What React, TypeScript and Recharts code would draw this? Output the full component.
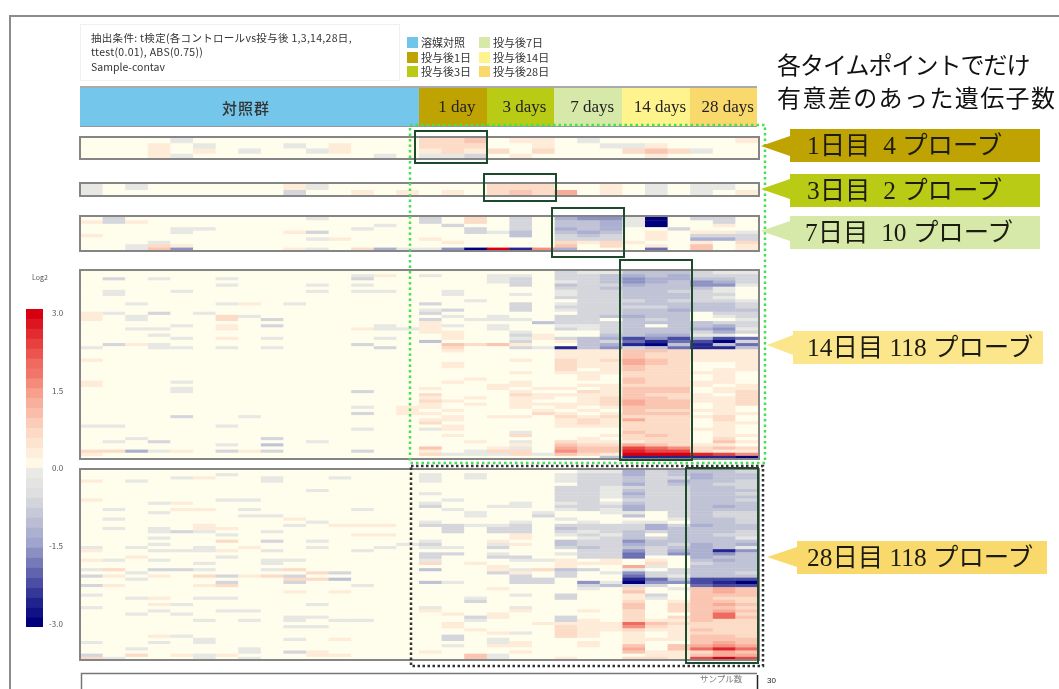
import { ScatterChart, Scatter, XAxis, YAxis } from 'recharts'

// ─── Data ─────────────────────────────────────────────────────────────────────
// One string per probe, 30 samples (15 control + 5 x 3 treated).
// '.' = 0, '1'..'9' = +1/3 .. +3 log2, 'a'..'i' = -1/3 .. -3 log2

const PROBES_DAY1 = [
  '... .a. ... ... ... 223 .11 .a. ... ..1',
  '... 1.a ... a.1 ... 222 ..1 ..a a1. ...',
  '... 1.1 .a. .a1 ... 121 2.2 ... 232 a..',
  '... 1a. ... ... .a. aab .1. ... .1. ...',
]
const PROBES_DAY3 = [
  'a.a ... ... 1a. ... ... 222 ..1 .a. aa.',
  'a.. ... ... b.. 1.1 .1. 232 4.1 .a. a.1',
]
const PROBES_DAY7 = [
  '.b. ... ... .a. ... b.2 .b. dee ai. bb.',
  '1b1 ... ... ... ... b.2 .b. ccd ai. .b.',
  '... ... ... ... .a. .b. .b. ccd ai. .1.',
  '... .aa ... ... a.. ..b .b. dcd ..b ...',
  '... .a. ... 1b. ... ..b ac. cdc .1. 11a',
  '1.. ... ... ... ... ... .c. bcb .1. bbb',
  '... ... ... .a1 ... 1.. ... bbb .1. ddb',
  '... a.. ... ... ... .1. ... 212 1.. 1.2',
  '..a 21. ... ... ... ... ... 3.2 .1. 3.1',
  '..a 3e. ... 1a. 2da aei 9h5 d.. .f. 3.1',
]
const PROBES_DAY14 = [
  '... ... ... ... ... ... ... baa ccc baa',
  '... ... ... ... a1. a.. aa. bbc dcd bbb',
  '.b. a.. a.. ... b.. ... ab. bbc edd ccb',
  '... ... ... ... ... ... ab. abc edc edb',
  '... ... a.. .a. a.. ... .b. cbb dcc eea',
  '... ... ... ... ... ... ... bbc ccc ca.',
  '.a. .a. ... .a. aa. .a. ... abb ccb ba.',
  '.a. ... ... ... ... .a. .a. abb ccc bb.',
  '... ... ... ... ... ... ... bbb ccc ba.',
  '... ... ... ... ... ..a ... .bb bcb bba',
  '..a ... a1. a.. ... b.. .b. abb ccc ccb',
  '... ... ... ... ... ... .b. bbb bbc ccb',
  '... ... ... ... ... ab. .b. abb ccd ccc',
  '1a. b.a ... ... ... b.. ... .bb ccc .bb',
  '1.a ... 2a. ... ... .a. a.. bbc dcc .ab',
  '1.a ... 2.b ... ... b.a aa. bb. cbc ..a',
  '... ... ... ... ... 1.. ..c bbb ccc cbb',
  '... .a. 1.b ... .a. 1a. a.. aab c.c cdb',
  '..a a.. 1.. ... 1aa 1.. a.. bab ccc dea',
  '... ... ... ... ... 11. .a. ..b ccc bdb',
  '... a.. ... ... ... .1. .b1 ..c cdd aa.',
  '... .a. 1.a ... .a. .1. .a1 bcd geg dgf',
  '... ... ... ... ... c.. .b. 1cb fhf gib',
  '.b1 a.. ... ... b.. .32 31. .cd hic hcf',
  'a.. aa. a.a ... .b. .2. .ba hce bcf hhc',
  '... ... ... ... ... .1. ... 111 332 111',
  '... ... ... ... ... ... ... 111 322 111',
  '... ... ... ... ... ... ... 111 322 111',
  '1.. ... ... ... ... ... .1. 212 432 111',
  '... ... ... ... ... .1. ... 211 432 ..1',
  '... ... ... ... ... .1. ... 211 322 ..1',
  '... ... ... ... ... ... ... 2.1 322 .11',
  '... ... ... ... ... ... .1. 111 222 11.',
  '... ... ... ... ... ... ... .1. 222 .1.',
  '... ... ... ... ... ..1 ... .1. 322 .1.',
  '1.. .a. ... ... ... .1. .1. ... 322 11.',
  '1.. ... ... ... ... ... 11. .11 222 1.1',
  '... .a. ... ... ... 1.. 1.1 1.1 333 .11',
  '... .a. ... ... b.. ... .1. .21 333 .12',
  '... ... ... ... ... 2.. .21 111 322 1.2',
  '... ... ... ... ... 1.1 .11 .12 332 112',
  '... ... ... ... ... 21. .1. .12 433 112',
  '... ... ... ... ... 1.1 .11 112 433 .12',
  '... ... ... ... a.1 1.. .1. 1.1 333 .1.',
  '... ... ... ... ..1 .1. ..1 .1. 322 11.',
  '... ... ... ... b.1 1.. ..2 1.1 333 .11',
  '... .b. .a. ... ... .1. 11. 212 222 12.',
  '... ... ... ... ... 11. ... 121 422 .2.',
  '... ... ... ... ... 2.. ... 121 222 .11',
  'aa. ... a.. ... ... .1. ... 111 222 .1.',
  '... ... ... ... a.. a1. ... ... 222 11.',
  '... ... ... ... ... ... .a. ... 322 .1.',
  '... ... ... ... ... .1. .2. ..1 232 .11',
  '..a ... ..b ... ... ... ... .1. 222 .2.',
  '.a. b.. ... .a. ... ..1 .a. 211 122 .31',
  '... ... a.c ... ... ... .1. 322 432 11.',
  '... ... ... ... ... 3.. 1a. 433 765 232',
  '22d a1. b1b ... b.. 1.a 22. 533 877 211',
  '1.. ... ... ... ... 2aa a2a 321 999 875',
  '... ... ... ... ... ... ... ..c hhh hhi',
]
const PROBES_DAY28 = [
  '... ... ... ... ... ... ... .aa dbc ccb',
  '... ... a.. ... ... a.a ... abb dbc dcc',
  '... .a1 ..a ..a ... a.a ... abb cbb dcc',
  '1.a ... ..a ... ... a.. ... abb cbd ccb',
  '... ... ... ... ... ... ... .bb dbc cbb',
  '... ... ... ... ... ... ... bba bbb ccb',
  '... ... ... .a. ... ... ... bba cbb ccc',
  '... ... ... ... ... a.. ... bba dbb ccb',
  '... ... ... ... ... ... ... bba cbb ccc',
  '1.. ... aa. ... ... .a. ... bb. bbb ccb',
  '... a1. ... ... ... a.. .a. aba cbb ccc',
  '... ... ... ... ... b.. aa. bbb dbb cdc',
  '.a. .11 .a. ... a.. .a. ... aba dbb ccc',
  '... a.. ... ... ... ..a ..a ..a a.b cbb',
  '... ... .aa ... ... ..a ..b ... c.b cbb',
  '.a. ... ... 1.. ... ... ... a.. ..a ccb',
  '... ... ... .a. ... a.. .a. .a. aa. ccb',
  '... ..1 ... a.1 11. bba ab. bbb bdb dcc',
  '.a. a.1 1.. ... ... .b. bb. cbb bdc ccc',
  '... aba ..a ... ... .b. bb. bab cbc ccb',
  '... ... a.. ... 11. ... .1. aba c.c cbb',
  '... a.. ... ... ... ... .1. .ab cbc cca',
  '... ... 2.b .a. ... a.. 1.. cbb ecc ccc',
  '... a.. ... ... ..a b.. a1. cbb dcb dcd',
  'a.a ..a .1. .a. .a. aa. b.. bcb cbc dca',
  '1.. aaa 1.a ... a.. ... ... .bb ebd dhe',
  '... ... ... ... ... bb. a.. abb fbe dec',
  '..1 ... a.. ... ... b.. bb. .bb f.. dcc',
  '1a. a.. ..a a.. ... a.. .aa 1.1 .1. cdc',
  '... ..a ..a ... ... 2.1 ... 111 .2. bcc',
  '... ... ... ... ... ... 1.. 1.. 4a. ccc',
  'a2. bba ..a 2.. ... c.. 1a2 cb. a.b ccc',
  '..a ... ... .2b ... ... b1. b.a ebb ccb',
  'b1. 1.2 b12 b.. ... ... .b. b.. fba ccc',
  '..a ... ... 22c ... ... .bb ... hfc ggg',
  '... ... b.. b.. ... ca. .bb .ea iee ghi',
  'b1. ..1 2.. ... a.. ... ... .bc bb. fgg',
  '... ... ... ... ... ... 1.. .a. 2.a 343',
  '... ... ... 1.1 ... ... ... ... 3.. 343',
  'a.. ... ... ... ... ... .a. b.. 1b. 333',
  '..a 1.a a.. ... ... ..a ... b.. 1a. 322',
  '... ... ... ... ... ..b ... ... 2.1 332',
  '... 1a. ... .a. ... ... ... ... 3.2 343',
  'a.. ... ... ... ... a.. .a. ... 3.2 332',
  '... a.. aa. ... ... 1.. .1. .1. 2.2 343',
  '..a .a. ... ... ... .1. 1.. ... 2.. 362',
  '... ... ... aa. ... ..b 1.. b.. 2.2 363',
  '... ..a .a. a.a a.. ..a ... b1. 211 322',
  '... ... ... ... ... .1. ..1 111 632 222',
  '... ... ... aa. ... .1. ... 211 521 222',
  '... ... ... ... ... ..1 ... 211 211 322',
  '... ... ... ... ... ... 1a. 21. 1.1 222',
  '... 1a. ... ... ... .b. ... 21. 1.1 332',
  '... ..a ... a.1 ... .b. a.. ... 111 333',
  'a.. a.a ... ... ... ... a1. .1. 1.. 343',
  '... ... ... ... ... .a. 11. .1. 3.3 454',
  '..a ... .a. ... ... ... ... ... 4.3 686',
  '... ... .a. b1. ... 1.. .1. ... 311 243',
  'b.2 .1a 1.. .11 ... ..3 a.. ... .11 344',
  '2a. ..a .a. ... ... ..3 a.. 1.. 221 797',
]

const COLORBAR_VALUES = [
  3, 2.8, 2.6, 2.4, 2.2, 2, 1.9, 1.7, 1.5, 1.3, 1.1, 0.9, 0.7, 0.5, 0.3, 0.1,
  -0.3, -0.4, -0.5, -0.7, -0.9, -1.1, -1.3, -1.5, -1.7, -1.9, -2.1, -2.3, -2.5, -2.7, -2.85, -3,
]
const COLORBAR_LABELS = ['3.0', '1.5', '0.0', '-1.5', '-3.0']

const GROUP_LABELS = ['1 day', '3 days', '7 days', '14 days', '28 days']
const GROUP_COLORS = ['#BFA302', '#B9CB15', '#D6E9A9', '#FFF38E', '#F9D96B']
const LEGEND_LABELS = ['溶媒対照', '投与後1日', '投与後3日', '投与後7日', '投与後14日', '投与後28日']
const LEGEND_COLORS = ['#6FC6EA', '#BFA302', '#B9CB15', '#D6E9A9', '#FFF38E', '#F9D96B']
const CONTROL_COLOR = '#74C7EA'

// ─── Helpers ──────────────────────────────────────────────────────────────────

const SANS = '"Noto Sans CJK JP", "Noto Sans", sans-serif'
const SERIF = '"Liberation Serif", "Noto Sans CJK JP", serif'

function decode(row: string): number[] {
  return row.replace(/ /g, '').split('').map((ch) => {
    if (ch === '.') return 0
    if (ch >= '1' && ch <= '9') return Number(ch) / 3
    return -(ch.charCodeAt(0) - 96) / 3
  })
}

const POS_STOPS = [[255, 253, 235], [252, 215, 195], [247, 160, 140], [235, 80, 75], [216, 0, 16]]
const NEG_STOPS = [[250, 250, 236], [208, 210, 218], [160, 165, 205], [80, 84, 165], [0, 0, 125]]

function heatColor(v: number): string {
  const stops = v >= 0 ? POS_STOPS : NEG_STOPS
  const t = (Math.min(Math.abs(v), 3) / 3) * (stops.length - 1)
  const i = Math.min(Math.floor(t), stops.length - 2)
  const f = t - i
  const c = stops[i].map((s, k) => Math.round(s + (stops[i + 1][k] - s) * f))
  return `rgb(${c[0]},${c[1]},${c[2]})`
}

// ─── Heat map panel ───────────────────────────────────────────────────────────

function Heatmap({ rows, left, top, width, height }: {
  rows: number[][]
  left: number
  top: number
  width: number
  height: number
}) {
  const nCols = rows[0].length
  const cellW = width / nCols
  const cellH = height / rows.length
  const cells = rows.flatMap((row, r) =>
    row.map((v, c) => ({ x: c + 0.5, y: r + 0.5, fill: heatColor(v) })))

  return (
    <div style={{ position: 'absolute', left, top, filter: 'blur(0.6px)' }}>
      <ScatterChart width={width} height={height} margin={{ top: 0, right: 0, bottom: 0, left: 0 }}>
        <XAxis type="number" dataKey="x" domain={[0, nCols]} hide />
        <YAxis type="number" dataKey="y" domain={[0, rows.length]} reversed hide />
        <Scatter
          data={cells}
          isAnimationActive={false}
          shape={(p: any) => (
            <rect
              x={p.cx - cellW / 2}
              y={p.cy - cellH / 2}
              width={cellW + 0.4}
              height={cellH + 0.4}
              fill={p.payload.fill}
            />
          )}
        />
      </ScatterChart>
    </div>
  )
}

// ─── Layout ───────────────────────────────────────────────────────────────────

const PANELS = [
  { rows: PROBES_DAY1, top: 138, height: 21 },
  { rows: PROBES_DAY3, top: 184, height: 12 },
  { rows: PROBES_DAY7, top: 217, height: 34 },
  { rows: PROBES_DAY14, top: 271, height: 188 },
  { rows: PROBES_DAY28, top: 470, height: 190 },
]
const GREEN_BOXES = [
  [415, 131, 72, 32],
  [484, 174, 72, 27],
  [552, 208, 72, 49],
  [620, 260, 72, 200],
  [686, 468, 72, 195],
]
const CALLOUTS = [
  { label: '1日目  4 プローブ', color: GROUP_COLORS[0], x: 790, y: 129, tipX: 761, tipY: 146, right: 1040, textX: 807 },
  { label: '3日目  2 プローブ', color: GROUP_COLORS[1], x: 790, y: 174, tipX: 761, tipY: 189, right: 1040, textX: 807 },
  { label: '7日目  10 プローブ', color: GROUP_COLORS[2], x: 790, y: 216, tipX: 761, tipY: 231, right: 1040, textX: 805 },
  { label: '14日目 118 プローブ', color: '#FBE68C', x: 793, y: 331, tipX: 767, tipY: 345, right: 1043, textX: 807 },
  { label: '28日目 118 プローブ', color: GROUP_COLORS[4], x: 797, y: 541, tipX: 767, tipY: 557, right: 1047, textX: 807 },
]

function Label({ x, y, size, children, color = '#222', font = SANS, weight = 400, spacing = 0 }: any) {
  return (
    <div style={{
      position: 'absolute', left: x, top: y, transform: 'translateY(-50%)', fontSize: size, color,
      fontFamily: font, fontWeight: weight, letterSpacing: spacing, whiteSpace: 'pre', lineHeight: 1,
    }}>{children}</div>
  )
}

export default function App() {
  return (
    <div style={{ position: 'fixed', left: 0, top: 0, width: 1059, height: 689, background: '#fff', overflow: 'hidden', filter: 'blur(0.3px)' }}>
      {/* page frame */}
      <div style={{ position: 'absolute', left: 9, top: 15, width: 1050, height: 674, borderTop: '2px solid #8c8c8c', borderLeft: '2px solid #8c8c8c' }} />

      {/* conditions box */}
      <div style={{ position: 'absolute', left: 80, top: 24, width: 318, height: 55, border: '1px solid #f0f0f0' }} />
      <Label x={91} y={38} size={10.5} color="#333" spacing={0.3}>抽出条件: t検定(各コントロールvs投与後 1,3,14,28日,</Label>
      <Label x={91} y={52} size={10.5} color="#333" spacing={0.3}>ttest(0.01), ABS(0.75))</Label>
      <Label x={91} y={67} size={10.5} color="#333">Sample-contav</Label>

      {/* sample group legend */}
      {LEGEND_LABELS.map((label, i) => {
        const x = i < 3 ? 407 : 479
        const y = 42 + (i % 3) * 14.5
        return (
          <div key={label}>
            <div style={{ position: 'absolute', left: x, top: y - 5, width: 11, height: 11, background: LEGEND_COLORS[i] }} />
            <Label x={x + 14} y={y} size={11} color="#333">{label}</Label>
          </div>
        )
      })}

      {/* heading on the right */}
      <Label x={777} y={64} size={24} color="#111" spacing={-1}>各タイムポイントでだけ</Label>
      <Label x={777} y={97} size={24} color="#111" spacing={1.4}>有意差のあった遺伝子数</Label>

      {/* group header bar */}
      <div style={{ position: 'absolute', left: 80, top: 86, width: 339, height: 41, background: CONTROL_COLOR, borderTop: '2px solid #aaa', borderBottom: '1px solid #999', boxSizing: 'border-box' }} />
      <Label x={222} y={107} size={15} weight={500} color="#333" spacing={1}>対照群</Label>
      {GROUP_LABELS.map((label, i) => (
        <div key={label} style={{
          position: 'absolute', left: 419 + i * 67.7, top: 86, width: 67.7, height: 41, boxSizing: 'border-box',
          background: GROUP_COLORS[i], borderTop: '2px solid #aaa', borderBottom: '1px solid #999', textAlign: 'center', paddingLeft: 8,
          fontFamily: SERIF, fontSize: 17, lineHeight: '37px', color: '#222', whiteSpace: 'nowrap',
        }}>{label}</div>
      ))}

      {/* heat map panels */}
      {PANELS.map((p) => (
        <Heatmap key={p.top} rows={p.rows.map(decode)} left={80} top={p.top} width={678} height={p.height} />
      ))}
      {PANELS.map((p) => (
        <div key={p.top} style={{
          position: 'absolute', left: 79, top: p.top - 2, width: 681, height: p.height + 3,
          border: '2px solid #858585', boxSizing: 'border-box',
        }} />
      ))}

      {/* colour bar */}
      <Label x={32} y={277} size={7} color="#555">Log2</Label>
      <Heatmap rows={COLORBAR_VALUES.map((v) => [v])} left={26} top={309} width={17} height={318} />
      {COLORBAR_LABELS.map((label, i) => (
        <Label key={label} x={i < 3 ? 52 : 49} y={313 + i * 77.7} size={8} color="#555">{label}</Label>
      ))}

      {/* annotations */}
      <svg width={1059} height={689} style={{ position: 'absolute', left: 0, top: 0 }}>
        <rect x={410} y={125} width={355} height={338} fill="none" stroke="#45E055" strokeWidth={2.5} strokeDasharray="2.5 3" />
        <rect x={411} y={466} width={352} height={200} fill="none" stroke="#333" strokeWidth={2.5} strokeDasharray="2.5 2.5" />
        {GREEN_BOXES.map(([x, y, w, h]) => (
          <rect key={x} x={x} y={y} width={w} height={h} fill="none" stroke="#1E4A2C" strokeWidth={2} />
        ))}
        {CALLOUTS.map((c) => (
          <polygon
            key={c.label}
            points={`${c.tipX},${c.tipY} ${c.x},${c.tipY - 10} ${c.x},${c.y} ${c.right},${c.y} ${c.right},${c.y + 33} ${c.x},${c.y + 33} ${c.x},${c.tipY + 10}`}
            fill={c.color}
          />
        ))}
        {/* sample axis bracket */}
        <path d="M81.5 689 V673.5 H757" fill="none" stroke="#777" strokeWidth={1.5} />
        <path d="M757.5 675 V689" fill="none" stroke="#222" strokeWidth={1.5} />
      </svg>
      {CALLOUTS.map((c) => (
        <Label key={c.label} x={c.textX} y={c.y + 17} size={25.4} font={SERIF} color="#1c1c10">{c.label}</Label>
      ))}
      <Label x={700} y={678} size={8.5} color="#777">サンプル数</Label>
      <Label x={767} y={681} size={8} color="#222" font={'"Liberation Sans", sans-serif'}>30</Label>
    </div>
  )
}
